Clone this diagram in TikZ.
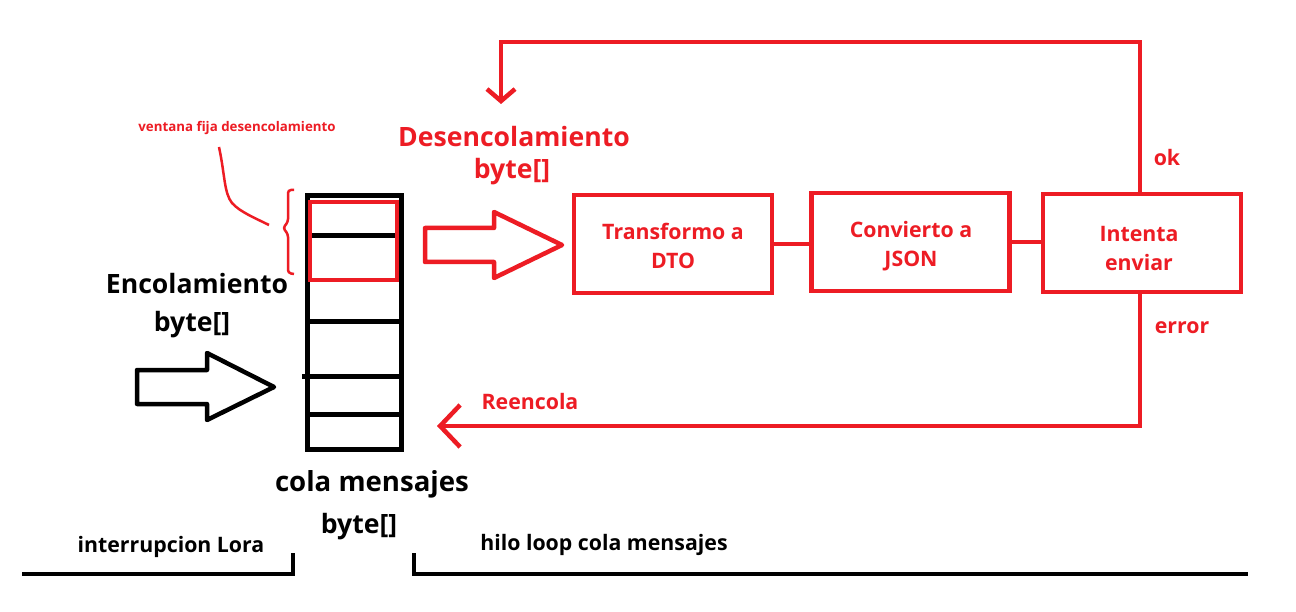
\documentclass[tikz,border=0pt]{standalone}
\usepackage{fontspec}
\setmainfont{Open Sans}
\usetikzlibrary{arrows.meta}
\definecolor{pred}{RGB}{237,28,36}
\begin{document}
\begin{tikzpicture}[x=1pt,y=-1pt,
  redline/.style={draw=pred,line width=4.5pt},
  blkline/.style={draw=black,line width=5pt},
  stepbox/.style={redline,minimum width=198pt,minimum height=98pt,inner sep=0pt},
  boxtxt/.style={align=center,text=pred,font=\bfseries\fontsize{21.3}{29}\selectfont,inner sep=0pt},
  bigtxt/.style={font=\bfseries\fontsize{26.6}{30}\selectfont,inner sep=0pt},
  midtxt/.style={font=\bfseries\fontsize{21.3}{24}\selectfont,inner sep=0pt},
  smalltxt/.style={font=\bfseries\fontsize{13.3}{15}\selectfont,inner sep=0pt}
]
\useasboundingbox (0,0) rectangle (1296,612);
\fill[white] (0,0) rectangle (1296,612);

% queue
\node[blkline,minimum width=94pt,minimum height=254pt,inner sep=0pt] (queue) at (354.5,322.5) {};
\foreach \yy in {236,322,414}{\draw[blkline] (queue.west |- 0,\yy) -- (queue.east |- 0,\yy);}
\draw[blkline] (302,376) -- (queue.east |- 0,376);
% window
\draw[redline] (310,202) rectangle (397,280);
% brace
\draw[draw=pred,line width=2.5pt,rounded corners=3pt] (294,190) -- (288,190) -- (288,222) -- (283,228) -- (288,234) -- (288,273) -- (294,274);
\draw[draw=pred,line width=2.5pt] (219,147) .. controls (225,175) and (224,193) .. (232,203) .. controls (240,212) and (255,218) .. (269,225);
\node[smalltxt,text=pred] (vent) at (237,128) {ventana fija desencolamiento};

% black block arrow
\draw[draw=black,line width=4.5pt,line join=round] (137,370) -- (207,370) -- (207,353) -- (274,387) -- (207,420) -- (207,404) -- (137,404) -- cycle;
\node[bigtxt] (enc) at (197,284) {Encolamiento};
\node[bigtxt] (encb) at (192,325) {byte[]};

% red block arrow
\draw[redline,line join=round] (425,228) -- (494,228) -- (494,212) -- (562,245) -- (494,278) -- (494,262) -- (425,262) -- cycle;
\node[bigtxt,text=pred] (des) at (514,137) {Desencolamiento};
\node[bigtxt,text=pred] (desb) at (512,172) {byte[]};

% boxes
\node[stepbox] (dto) at (673,244) {};
\node[stepbox] (json) at (910.5,242) {};
\node[stepbox] (send) at (1142,243) {};
\node[boxtxt] (dtot) at (673,246) {Transformo a\\DTO};
\node[boxtxt] (jsont) at (911,246) {Convierto a\\JSON};
\node[boxtxt] (sendt) at (1139,249) {Intenta\\enviar};
\draw[redline] (dto.east |- 0,244) -- (json.west |- 0,244);
\draw[redline] (json.east |- 0,242) -- (send.west |- 0,242);

% loops
\coordinate (topend) at (501,104);
\coordinate (botend) at (437,426);
\draw[redline,-{Straight Barb[length=12pt,width=28pt]}] (1140,192) |- (topend |- 0,42) -- (topend);
\draw[redline,-{Straight Barb[length=20pt,width=42pt]}] (1140,294) |- (botend);
\node[midtxt,text=pred] (ok) at (1167,158) {ok};
\node[midtxt,text=pred] (err) at (1182,328) {error};
\node[midtxt,text=pred] (reen) at (530,402) {Reencola};

% labels under queue
\node[bigtxt,font=\bfseries\fontsize{27.6}{30}\selectfont] (cola) at (372,484) {cola mensajes};
\node[bigtxt] (colab) at (359,527) {byte[]};

% bottom brackets
\draw[draw=black,line width=4pt] (22,574) -- (293,574) -- (293,553);
\draw[draw=black,line width=4pt] (414,553) -- (414,574) -- (1248,574);
\node[midtxt] (lora) at (171,547) {interrupcion Lora};
\node[midtxt] (hilo) at (604,545) {hilo loop cola mensajes};
\end{tikzpicture}
\end{document}
